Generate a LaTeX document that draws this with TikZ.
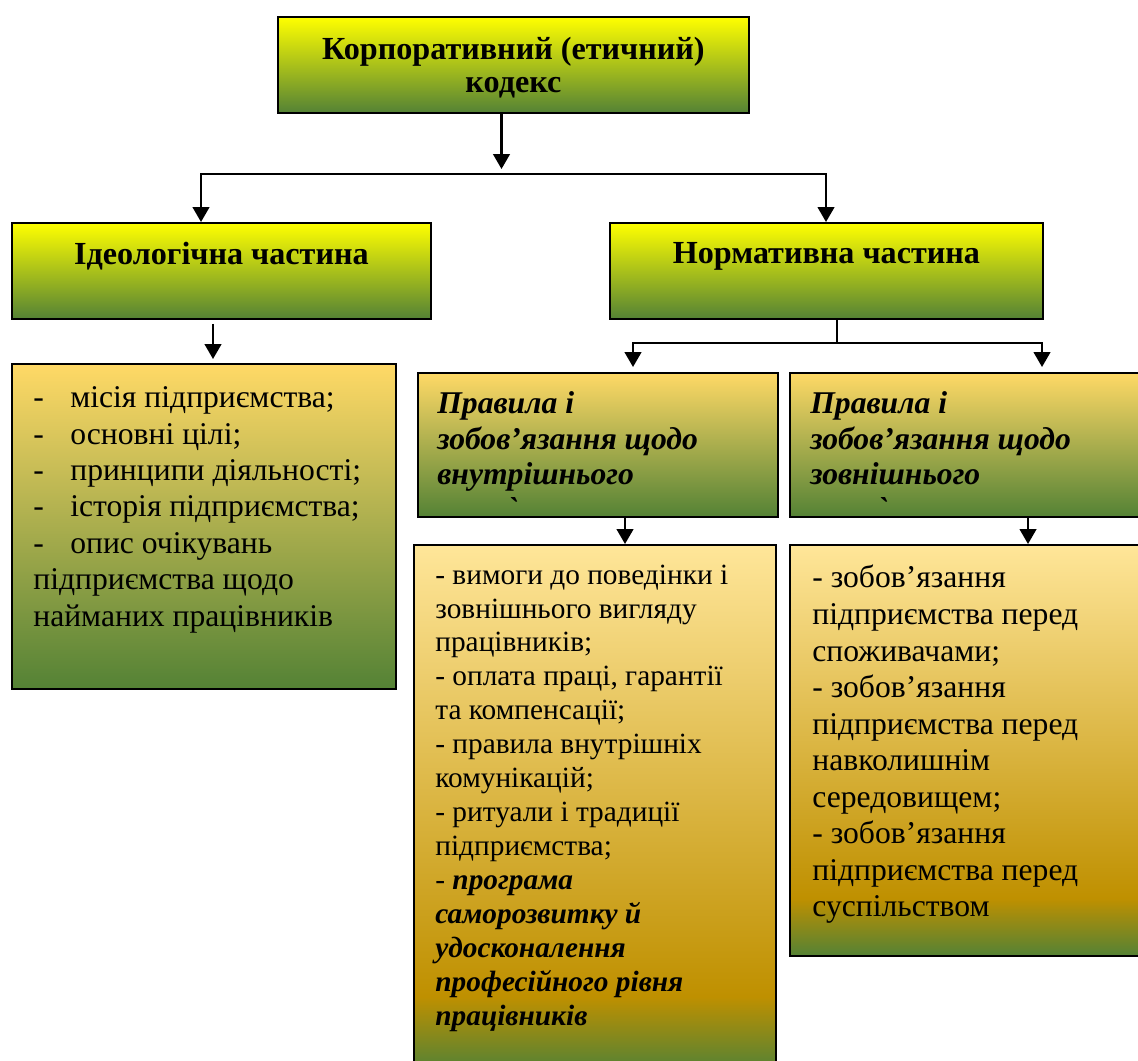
\documentclass[tikz,border=0pt]{standalone}
\usepackage{fontspec}
\setmainfont{Liberation Serif}[Ligatures=TeXOff]
\usetikzlibrary{arrows.meta}
\definecolor{Y0}{RGB}{255,255,0}
\definecolor{Y1}{RGB}{255,217,102}
\definecolor{Y2}{RGB}{255,230,153}
\definecolor{D0}{RGB}{191,144,0}
\definecolor{G0}{RGB}{84,130,53}
\pgfdeclareverticalshading{goldfade}{100bp}{color(0bp)=(G0); color(25bp)=(G0); color(32bp)=(D0); color(75bp)=(Y2); color(100bp)=(Y2)}

\begin{document}
\begin{tikzpicture}[
    box/.style={draw=black, line width=1pt, anchor=north west, inner sep=0pt},
    hdbox/.style={box, top color=Y0, bottom color=G0},
    subbox/.style={box, top color=Y1, bottom color=G0},
    listbox/.style={box, shade, shading=goldfade},
    hdtext/.style={inner sep=0pt, align=center, font=\fontsize{18.3}{19}\selectfont\bfseries},
    subtext/.style={anchor=north west, inner sep=0pt, align=left, font=\fontsize{18}{20}\selectfont\bfseries\itshape},
    listtext/.style={anchor=north west, inner sep=0pt, align=left},
    arr/.style={line width=1.2pt, -{Triangle[length=8.5pt,width=9.5pt]}},
    ln/.style={line width=1.2pt}
  ]
  \clip (0,0) rectangle (22.76,-21.2);
  \fill[white] (0,0) rectangle (22.76,-21.2);

  % top level
  \node[hdbox, minimum width=9.42cm, minimum height=1.92cm] (kodeks) at (5.54,-0.32) {};
  \node[hdtext] (kodekstxt) at ([yshift=-0.06cm]kodeks.center) {Корпоративний (етичний)\\кодекс};

  % second level
  \node[hdbox, minimum width=8.38cm, minimum height=1.92cm] (ideo) at (0.22,-4.44) {};
  \node[hdbox, minimum width=8.66cm, minimum height=1.92cm] (norm) at (12.18,-4.44) {};
  \node[hdtext] (ideotxt) at ([yshift=-0.68cm]ideo.north) {Ідеологічна частина};
  \node[hdtext] (normtxt) at ([yshift=-0.68cm]norm.north) {Нормативна частина};

  % ideological part
  \node[subbox, minimum width=7.68cm, minimum height=6.5cm] (ideolist) at (0.22,-7.26) {};
  \node[listtext, font=\fontsize{18}{20.7}\selectfont] (ideoitems) at ([shift={(0.44,-0.38)}]ideolist.north west)
    {\strut\makebox[0.74cm][l]{-}місія підприємства;\\
     \makebox[0.74cm][l]{-}основні цілі;\\
     \makebox[0.74cm][l]{-}принципи діяльності;\\
     \makebox[0.74cm][l]{-}історія підприємства;\\
     \makebox[0.74cm][l]{-}опис очікувань\\
     підприємства щодо\\
     найманих працівників};

  % normative part
  \node[subbox, minimum width=7.2cm, minimum height=2.88cm] (inthead) at (8.34,-7.44) {};
  \node[subbox, minimum width=7.4cm, minimum height=2.88cm] (exthead) at (15.78,-7.44) {};
  \node[subtext] (inttxt) at ([shift={(0.4,-0.34)}]inthead.north west)
    {\strut Правила і\\зобов’язання щодо\\внутрішнього\\\hspace*{1.4cm}`};
  \node[subtext] (exttxt) at ([shift={(0.42,-0.34)}]exthead.north west)
    {\strut Правила і\\зобов’язання щодо\\зовнішнього\\\hspace*{1.34cm}`};

  \node[listbox, minimum width=7.24cm, minimum height=10.5cm] (intlist) at (8.26,-10.88) {};
  \node[listbox, minimum width=7.4cm, minimum height=8.22cm] (extlist) at (15.78,-10.88) {};
  \node[listtext, font=\fontsize{16.7}{19.3}\selectfont] (intitems) at ([shift={(0.44,-0.32)}]intlist.north west)
    {\strut - вимоги до поведінки і\\
     зовнішнього вигляду\\
     працівників;\\
     - оплата праці, гарантії\\
     та компенсації;\\
     - правила внутрішніх\\
     комунікацій;\\
     - ритуали і традиції\\
     підприємства;\\
     - \textbf{\textit{програма}}\\
     \textbf{\textit{саморозвитку й}}\\
     \textbf{\textit{удосконалення}}\\
     \textbf{\textit{професійного рівня}}\\
     \textbf{\textit{працівників}}};
  \node[listtext, font=\fontsize{18}{20.8}\selectfont] (extitems) at ([shift={(0.46,-0.36)}]extlist.north west)
    {\strut - зобов’язання\\
     підприємства перед\\
     споживачами;\\
     - зобов’язання\\
     підприємства перед\\
     навколишнім\\
     середовищем;\\
     - зобов’язання\\
     підприємства перед\\
     суспільством};

  % connectors
  \coordinate (fork) at (10.03,-3.48);
  \coordinate (nfork) at (16.74,-6.86);
  \coordinate (intin) at ([xshift=4.24cm]intlist.north west);
  \coordinate (extin) at ([xshift=4.78cm]extlist.north west);
  \draw[arr] (fork |- kodeks.south) -- ([yshift=0.1cm]fork);
  \draw[arr] (fork) -| ([xshift=3.8cm]ideo.north west);
  \draw[arr] (fork) -| ([xshift=4.34cm]norm.north west);
  \draw[arr] ([shift={(4.04cm,-0.08cm)}]ideo.south west) -- ([shift={(4.04cm,0.08cm)}]ideolist.north west);
  \draw[ln] (nfork |- norm.south) -- (nfork);
  \draw[arr] (nfork) -| ([shift={(4.32cm,0.1cm)}]inthead.north west);
  \draw[arr] (nfork) -| ([shift={(5.06cm,0.1cm)}]exthead.north west);
  \draw[arr] (intin |- inthead.south) -- (intin);
  \draw[arr] (extin |- exthead.south) -- (extin);
\end{tikzpicture}
\end{document}
